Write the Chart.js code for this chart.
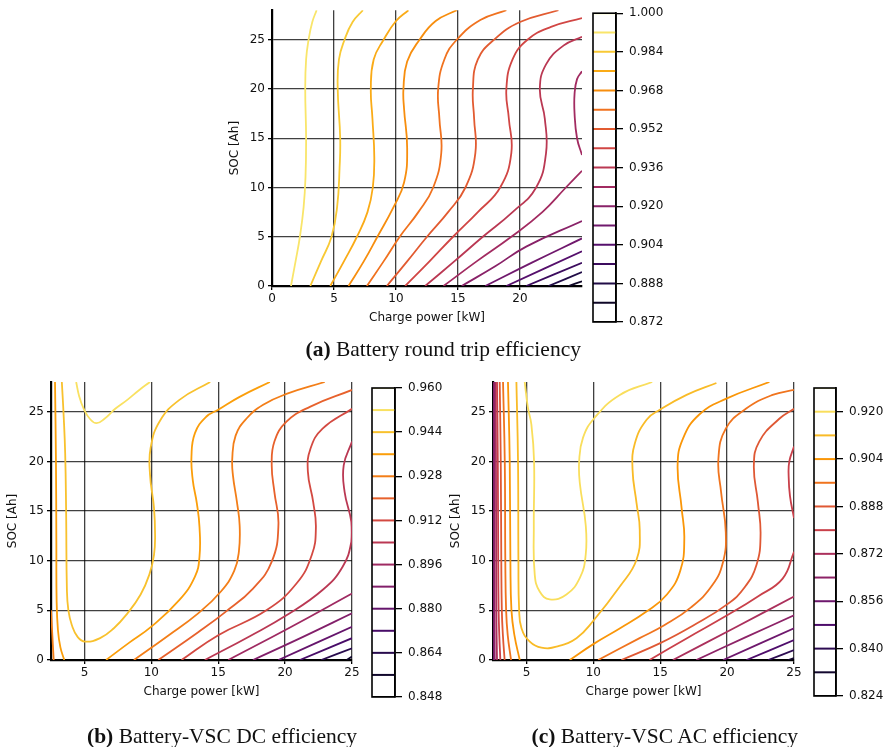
<!DOCTYPE html>
<html>
<head>
<meta charset="utf-8">
<script src="https://cdn.jsdelivr.net/npm/chart.js@4.4.1/dist/chart.umd.min.js"></script>
<style>
  html, body { margin: 0; padding: 0; background: #fff; }
  #page { position: relative; width: 891px; height: 747px; overflow: hidden; }
  #page canvas { position: absolute; left: 0; top: 0; }
  .cap { position: absolute; font-family: 'Liberation Serif', serif; font-size: 21.5px; color: #111; white-space: nowrap; line-height: 22px; }
  .cap b { font-weight: bold; }
</style>
</head>
<body>
<div id="page">
  <canvas id="rt" width="891" height="747"></canvas>
  <canvas id="rtBar" width="891" height="747"></canvas>
  <canvas id="dc" width="891" height="747"></canvas>
  <canvas id="dcBar" width="891" height="747"></canvas>
  <canvas id="ac" width="891" height="747"></canvas>
  <canvas id="acBar" width="891" height="747"></canvas>
  <div class="cap" id="capA"><b>(a)</b> Battery round trip efficiency</div>
  <div class="cap" id="capB"><b>(b)</b> Battery-VSC DC efficiency</div>
  <div class="cap" id="capC"><b>(c)</b> Battery-VSC AC efficiency</div>
</div>
<script>
// axis ticks
const socTicks = [0, 5, 10, 15, 20, 25];
const powerTicksA = [0, 5, 10, 15, 20];
const powerTicksBC = [5, 10, 15, 20, 25];

// contour levels (colorbar range = first..last)
const rtLevels = [0.872, 0.880, 0.888, 0.896, 0.904, 0.912, 0.920, 0.928, 0.936, 0.944, 0.952, 0.960, 0.968, 0.976, 0.984, 0.992, 1.000];
const dcLevels = [0.848, 0.856, 0.864, 0.872, 0.880, 0.888, 0.896, 0.904, 0.912, 0.920, 0.928, 0.936, 0.944, 0.952, 0.960];
const acLevels = [0.824, 0.832, 0.840, 0.848, 0.856, 0.864, 0.872, 0.880, 0.888, 0.896, 0.904, 0.912, 0.920, 0.928];

const rtBarTicks = [1.000, 0.984, 0.968, 0.952, 0.936, 0.920, 0.904, 0.888, 0.872];
const dcBarTicks = [0.960, 0.944, 0.928, 0.912, 0.896, 0.880, 0.864, 0.848];
const acBarTicks = [0.920, 0.904, 0.888, 0.872, 0.856, 0.840, 0.824];

// contour lines: [level, [[power kW, SOC Ah], ...]]
const rtContours = [
  [0.992, [[1.53,0],[1.9,2.5],[2.25,5],[2.55,8],[2.7,11],[2.75,15],[2.68,20],[2.75,23],[2.95,25],[3.25,26.8],[3.6,28]]],
  [0.984, [[3.09,0],[3.95,2.5],[4.8,5],[5.25,8],[5.45,12],[5.5,15],[5.3,20],[5.4,23],[5.85,25],[6.5,26.8],[7.33,28]]],
  [0.976, [[4.7,0],[5.8,2.5],[6.85,5],[7.7,7.5],[8.13,10],[8.25,13],[8.1,17],[7.97,20],[8.2,23],[9.0,25],[10.0,26.9],[11.0,28]]],
  [0.968, [[6.17,0],[7.4,2.5],[8.5,5],[9.8,8],[10.65,10.5],[10.9,14],[10.65,18],[10.6,20],[10.9,22.8],[11.9,25],[13.2,26.9],[14.9,28]]],
  [0.960, [[7.65,0],[9.0,2.5],[10.3,5],[11.8,7.5],[13.0,10],[13.65,13.5],[13.5,17],[13.4,20],[13.9,23],[14.9,25],[16.8,27],[18.9,28]]],
  [0.952, [[9.26,0],[10.9,2.5],[12.5,5],[14.2,7.5],[15.6,10],[16.4,13.5],[16.3,17],[16.2,20],[16.6,23],[17.9,25],[20.0,26.8],[23.1,28]]],
  [0.944, [[10.74,0],[12.7,2.5],[14.6,5],[16.6,7.5],[18.4,10],[19.3,13.5],[19.1,17],[18.9,20],[19.4,23],[20.6,25],[22.5,26.3],[25,27.2]]],
  [0.936, [[12.35,0],[14.7,2.5],[17.0,5],[19.4,7.5],[21.3,10],[22.1,13.5],[22.0,17],[21.6,20],[22.1,22.5],[23.5,24.4],[25,25.3]]],
  [0.928, [[13.83,0],[16.5,2.5],[19.3,5],[21.8,7.5],[23.7,10],[25,11.7]]],
  [0.928, [[25,13.3],[24.6,15],[24.4,17.5],[24.4,19.5],[24.6,21],[25,21.8]]],
  [0.920, [[15.3,0],[18,2],[20.5,4.0],[25,6.6]]],
  [0.912, [[17.2,0],[21,2.4],[25,4.83]]],
  [0.904, [[18.9,0],[25,3.52]]],
  [0.896, [[20.5,0],[25,2.35]]],
  [0.888, [[22.3,0],[25,1.41]]],
  [0.880, [[23.9,0],[25,0.47]]]
];

const dcContours = [
  [0.952, [[4.38,28],[4.6,26.6],[4.95,25.3],[5.4,24.3],[5.9,23.85],[6.5,24.3],[7.3,25.3],[8.2,26.2],[9.1,27.2],[9.9,28]]],
  [0.944, [[3.31,28],[3.45,24.5],[3.56,20.8],[3.63,15],[3.69,7],[3.8,5],[4.06,3.5],[4.5,2.3],[5.05,1.85],[6.17,2.2],[7.2,3.2],[8.16,4.6],[9.2,6.6],[9.85,8.6],[10.2,10.6],[10.28,12.6],[10.2,15.3],[9.9,18.7],[9.95,21.4],[10.65,24.1],[12.1,26.2],[14.4,28]]],
  [0.936, [[2.8,28],[2.87,20],[2.9,12],[2.92,6],[3.02,3],[3.2,1.3],[3.49,0]]],
  [0.928, [[2.5,5],[2.6,2.5],[2.7,0]]],
  [0.936, [[6.62,0],[8.3,1.7],[10,3.36],[12.1,6.05],[13.26,8.4],[13.6,10.4],[13.6,13.4],[13.4,15.8],[13.1,18.1],[13.0,20.5],[13.26,22.85],[14.1,24.5],[15,25.2],[16.6,26.5],[18.86,28]]],
  [0.928, [[8.7,0],[11.2,2.4],[13.5,4.7],[15.2,6.9],[16.2,9.0],[16.55,11],[16.6,13.6],[16.4,15.9],[16.1,18.6],[16.05,20.3],[16.3,22.6],[17.1,24.3],[18.36,25.7],[20.1,26.8],[22.96,28]]],
  [0.920, [[10.52,0],[13.5,2.8],[15.5,4.8],[17.6,7.2],[19,9.9],[19.5,13.6],[19.2,16.9],[19.0,19.6],[19.2,22],[20.1,24],[21.85,25.5],[25,27.2]]],
  [0.912, [[12.26,0],[15,2.5],[18.6,5.0],[20.85,7.7],[22,10.6],[22.3,13.3],[22.1,15.9],[21.7,19],[21.9,21.3],[22.8,23.3],[25,25.3]]],
  [0.904, [[14.0,0],[17.36,2.4],[20.1,4.5],[22.84,7.1],[24.3,9.4],[24.95,11.9],[24.95,13.9],[24.45,16.9],[24.38,19.6],[25,22]]],
  [0.896, [[15.75,0],[20.4,3.3],[25,6.7]]],
  [0.888, [[17.6,0],[21.3,2.3],[25,4.7]]],
  [0.880, [[19.5,0],[25,3.35]]],
  [0.872, [[21.1,0],[25,2.2]]],
  [0.864, [[22.7,0],[25,1.17]]],
  [0.856, [[24.6,0],[25,0.34]]]
];

const acContours = [
  [0.920, [[4.87,28],[5.1,25.5],[5.37,23.7],[5.57,20],[5.55,13.6],[5.62,8.6],[5.99,6.9],[6.74,6.1],[7.99,6.6],[9.0,8.3],[9.43,10.6],[9.43,13.6],[9.0,17.7],[8.94,20],[9.23,22.4],[10.1,24.4],[11.98,26.7],[14.4,28]]],
  [0.912, [[4.25,28],[4.37,20],[4.4,10],[4.45,5.2],[4.63,3.2],[5.25,1.85],[6.12,1.24],[7.24,1.35],[8.74,2.2],[10.03,4.0],[11.98,7.4],[13.23,10.1],[13.47,13.1],[13.23,15.8],[12.93,19.2],[13.1,21.8],[13.98,24.2],[14.97,25.2],[16.97,26.7],[19.2,27.9]]],
  [0.904, [[3.62,28],[3.75,20],[3.8,10],[3.88,5],[4.1,2.5],[4.5,0]]],
  [0.904, [[8.24,0],[10,1.6],[12,3.2],[14,4.9],[15.5,6.6],[16.5,9.0],[16.8,12.2],[16.6,15.3],[16.3,19.6],[16.7,22.3],[17.9,24.7],[19.9,26.3],[23.16,28]]],
  [0.896, [[3.25,28],[3.38,20],[3.42,10],[3.48,5],[3.6,2.5],[3.85,0]]],
  [0.896, [[10.36,0],[13.46,2.2],[15.3,3.5],[17.3,5.3],[18.9,7.55],[19.7,9.9],[19.9,12.9],[19.55,16.9],[19.35,20.3],[19.9,23.3],[21.4,25.3],[23.4,26.7],[25,27.2]]],
  [0.888, [[3.0,28],[3.08,20],[3.12,10],[3.16,5],[3.24,2.5],[3.37,0]]],
  [0.888, [[12.1,0],[15,1.7],[17.5,3.5],[20,5.6],[21.3,7.3],[22.2,9.6],[22.5,12.6],[22.3,15.9],[22.0,19.6],[22.4,22],[23.9,24.3],[25,25.3]]],
  [0.880, [[2.8,28],[2.86,20],[2.89,10],[2.92,5],[2.97,2.5],[3.05,0]]],
  [0.880, [[14.2,0],[17,2.2],[20,4.5],[22.3,6.4],[24.15,8.2],[25,10.9]]],
  [0.880, [[25,21.5],[24.65,20],[24.6,18.5],[24.7,16.5],[25,14.3]]],
  [0.872, [[2.7,28],[2.72,20],[2.74,10],[2.75,5],[2.77,2.5],[2.8,0]]],
  [0.872, [[15.95,0],[20.5,3.2],[25,6.4]]],
  [0.864, [[2.58,28],[2.6,15],[2.61,5],[2.63,0]]],
  [0.864, [[17.7,0],[21.4,2.3],[25,4.5]]],
  [0.856, [[2.53,28],[2.54,0]]],
  [0.856, [[19.7,0],[25,3.2]]],
  [0.848, [[21.45,0],[25,2.0]]],
  [0.840, [[23.07,0],[25,1.0]]],
  [0.832, [[24.57,0],[25,0.2]]]
];

const W = 891, H = 747;
const TXT = '#111';
Chart.defaults.font.family = "'DejaVu Sans', sans-serif";
Chart.defaults.animation = false;
Chart.defaults.responsive = false;

const INFERNO = ['#000004','#1b0c42','#4b0c6b','#781c6d','#a52c60','#cf4446','#ed6925','#fb9a06','#f7d03c','#fcffa4'];
function hex(c) { return [1, 3, 5].map(i => parseInt(c.slice(i, i + 2), 16)); }
function inferno(t) {
  t = Math.max(0, Math.min(1, t));
  const s = t * (INFERNO.length - 1);
  const i = Math.min(Math.floor(s), INFERNO.length - 2);
  const f = s - i;
  const a = hex(INFERNO[i]), b = hex(INFERNO[i + 1]);
  const m = a.map((v, k) => Math.round(v + (b[k] - v) * f));
  return 'rgb(' + m.join(',') + ')';
}

function fixedTicks(arr) {
  return s => { s.ticks = arr.map(v => ({ value: v })); };
}

// draws a box round the colorbar
const boxPlugin = {
  id: 'box',
  afterDatasetsDraw(chart) {
    const { ctx, chartArea: a } = chart;
    ctx.save();
    ctx.strokeStyle = '#000';
    ctx.lineWidth = 1.6;
    ctx.strokeRect(a.left, a.top, a.right - a.left, a.bottom - a.top);
    ctx.restore();
  }
};

function contourChart(id, area, xMin, xTicks, contours, levels) {
  const vmin = levels[0], vmax = levels[levels.length - 1];
  const yW = area.l - (area.yTitle - 11.2);
  const xH = area.xTitle + 11.2 - area.b;
  new Chart(document.getElementById(id), {
    type: 'scatter',
    data: {
      datasets: contours.map(c => ({
        data: c[1].map(p => ({ x: p[0], y: p[1] })),
        showLine: true,
        borderColor: inferno((c[0] - vmin) / (vmax - vmin)),
        borderWidth: 1.8,
        pointRadius: 0,
        tension: 0.45,
        fill: false
      }))
    },
    options: {
      layout: { padding: { left: area.l - yW, top: area.t, right: W - area.r, bottom: H - area.b - xH } },
      plugins: { legend: { display: false }, tooltip: { enabled: false } },
      events: [],
      scales: {
        x: {
          type: 'linear', min: xMin, max: 25,
          afterBuildTicks: fixedTicks(xTicks),
          afterFit: s => { s.height = xH; },
          grid: { color: 'rgba(0,0,0,0.75)', lineWidth: 1.3, tickLength: 4, tickColor: '#000' },
          border: { display: true, color: '#000', width: 2.2 },
          ticks: { color: TXT, font: { size: 12 }, padding: 2, maxRotation: 0 },
          title: { display: true, text: 'Charge power [kW]', color: TXT, font: { size: 12 }, padding: { top: 4, bottom: 4 } }
        },
        y: {
          type: 'linear', min: 0, max: 28,
          afterBuildTicks: fixedTicks(socTicks),
          afterFit: s => { s.width = yW; },
          grid: { color: 'rgba(0,0,0,0.75)', lineWidth: 1.3, tickLength: 4, tickColor: '#000' },
          border: { display: true, color: '#000', width: 2.2 },
          ticks: { color: TXT, font: { size: 12 }, padding: 3 },
          title: { display: true, text: 'SOC [Ah]', color: TXT, font: { size: 12 }, padding: { top: 4, bottom: 4 } }
        }
      }
    }
  });
}

function colorBar(id, area, levels, ticks) {
  const vmin = levels[0], vmax = levels[levels.length - 1];
  const axW = 60;
  new Chart(document.getElementById(id), {
    type: 'scatter',
    data: {
      datasets: levels.map(L => ({
        data: [{ x: 0, y: L }, { x: 1, y: L }],
        showLine: true,
        borderColor: inferno((L - vmin) / (vmax - vmin)),
        borderWidth: 2,
        pointRadius: 0
      }))
    },
    options: {
      layout: { padding: { left: area.l, top: area.t, right: W - area.r - axW, bottom: H - area.b } },
      plugins: { legend: { display: false }, tooltip: { enabled: false } },
      events: [],
      scales: {
        x: { type: 'linear', min: 0, max: 1, display: false },
        y: {
          type: 'linear', position: 'right', min: vmin, max: vmax,
          afterBuildTicks: fixedTicks(ticks),
          afterFit: s => { s.width = axW; },
          grid: { drawOnChartArea: false, tickLength: 7, tickColor: '#000', lineWidth: 1.3 },
          border: { display: true, color: '#000', width: 1.6 },
          ticks: { color: TXT, font: { size: 12 }, padding: 6, callback: v => v.toFixed(3) }
        }
      }
    },
    plugins: [boxPlugin]
  });
}

contourChart('rt', { l: 272, t: 7, r: 582, b: 286, yTitle: 235, xTitle: 318 }, 0, powerTicksA, rtContours, rtLevels);
colorBar('rtBar', { l: 593, t: 13, r: 616, b: 322 }, rtLevels, rtBarTicks);
contourChart('dc', { l: 51, t: 382, r: 352, b: 660, yTitle: 13, xTitle: 692 }, 2.5, powerTicksBC, dcContours, dcLevels);
colorBar('dcBar', { l: 372, t: 388, r: 395, b: 697 }, dcLevels, dcBarTicks);
contourChart('ac', { l: 493, t: 382, r: 794, b: 660, yTitle: 456, xTitle: 692 }, 2.5, powerTicksBC, acContours, acLevels);
colorBar('acBar', { l: 814, t: 388, r: 836, b: 696 }, acLevels, acBarTicks);

// captions
function placeCap(id, cx, top) {
  const el = document.getElementById(id);
  el.style.top = top + 'px';
  el.style.left = (cx - el.offsetWidth / 2) + 'px';
}
placeCap('capA', 443, 338);
placeCap('capB', 222, 725);
placeCap('capC', 665, 725);
</script>
</body>
</html>
